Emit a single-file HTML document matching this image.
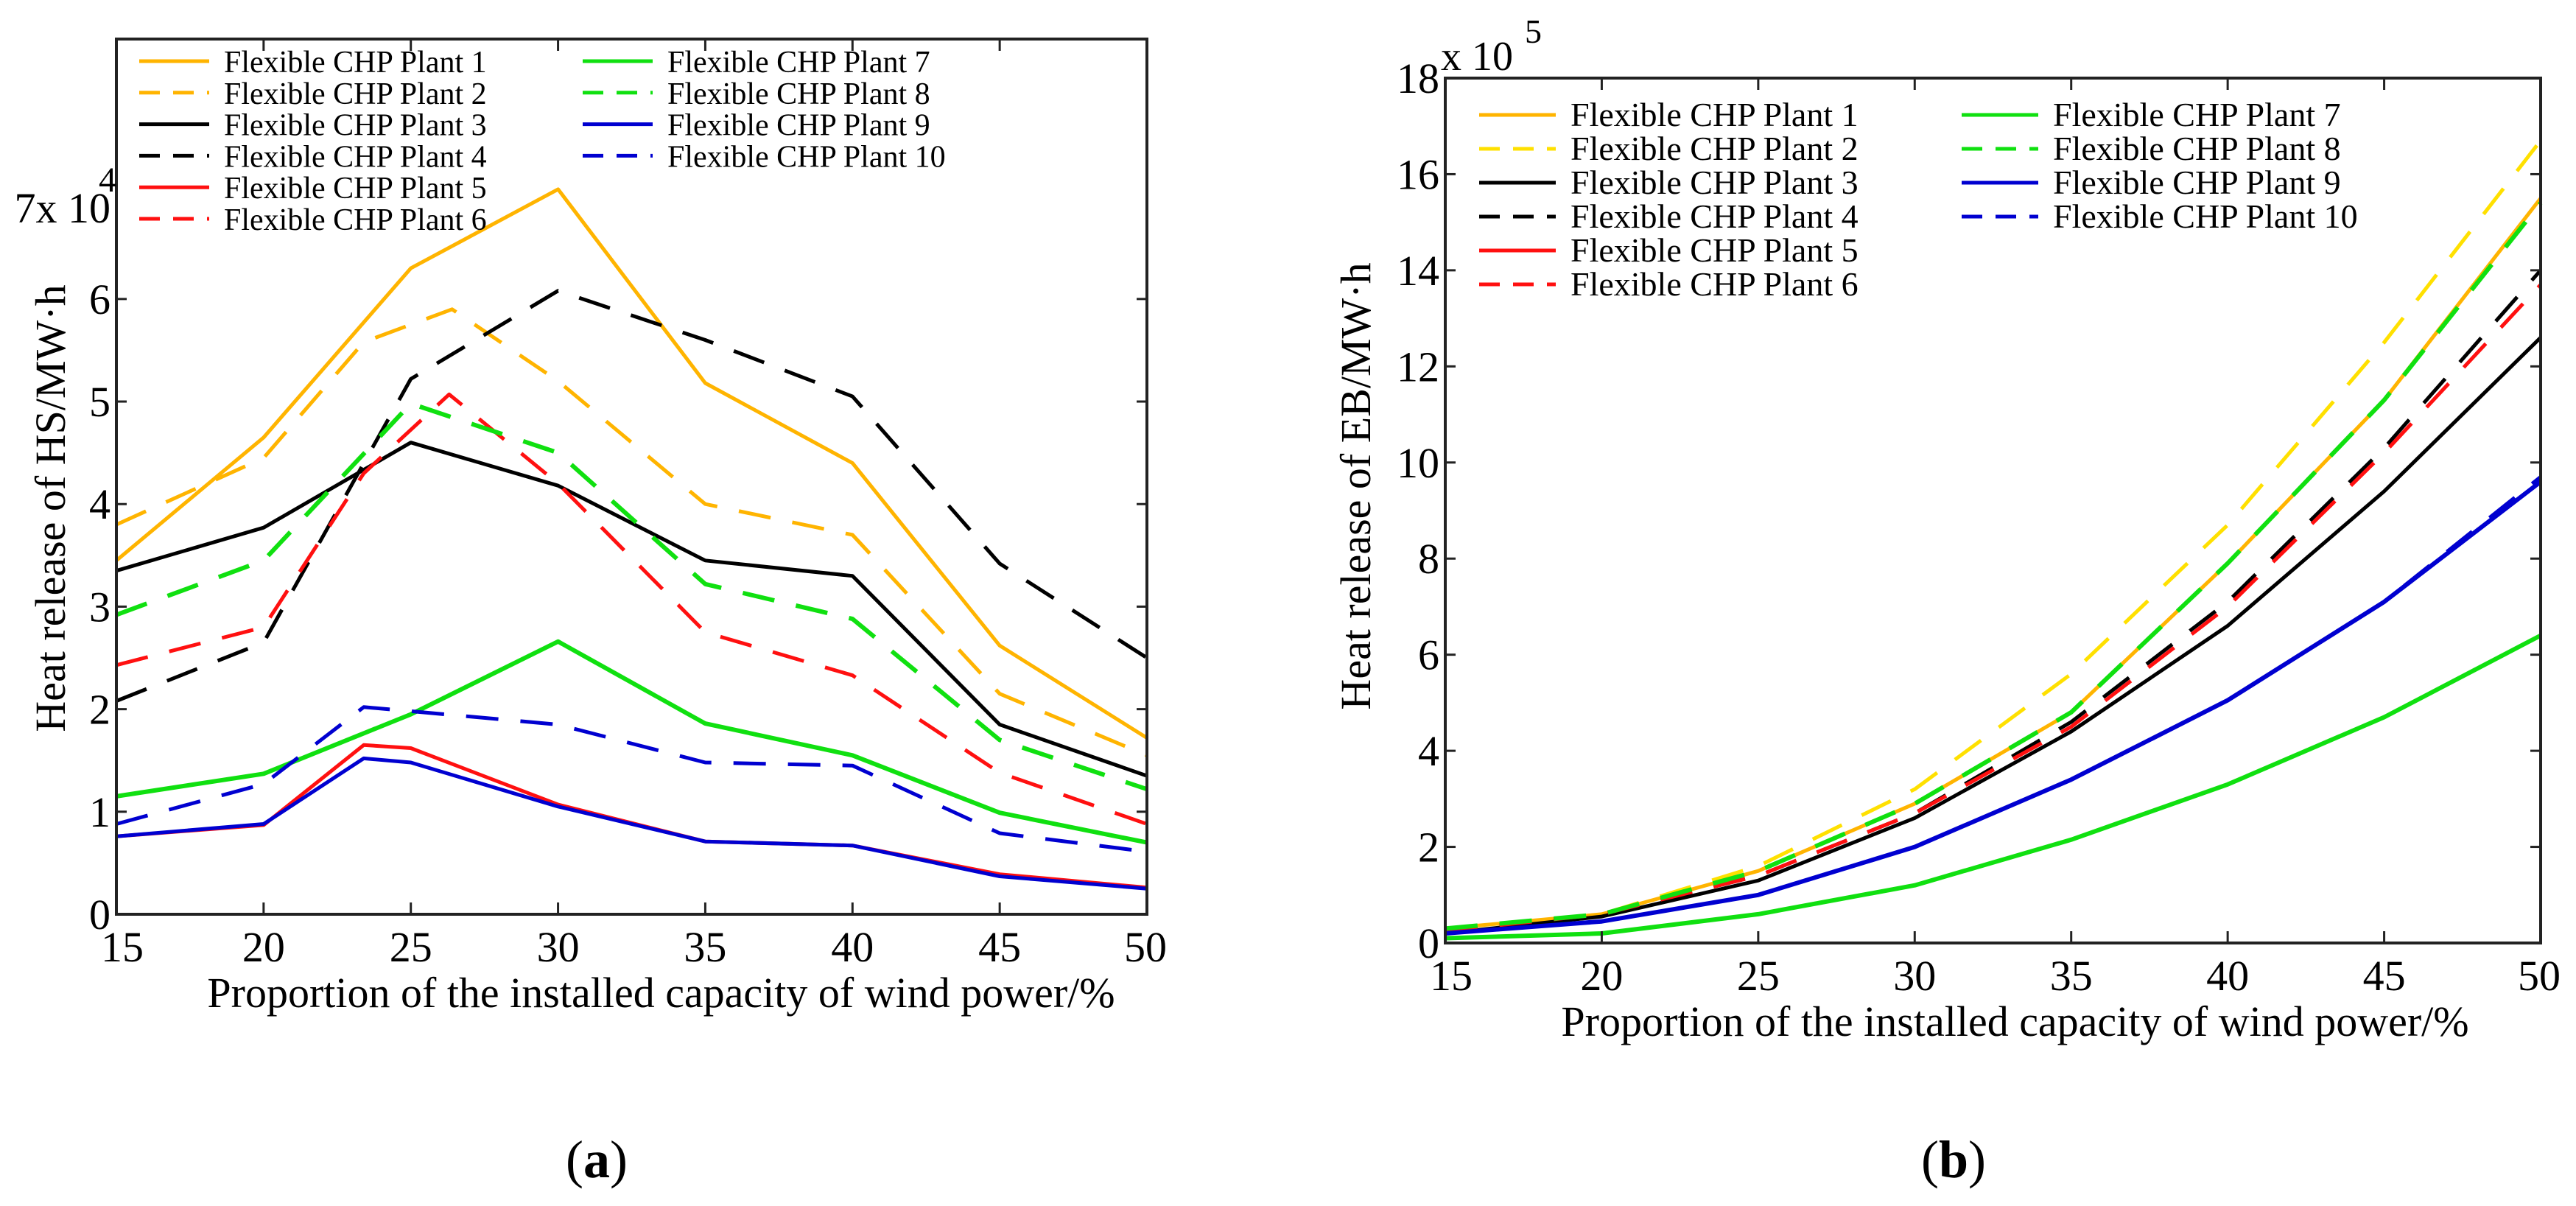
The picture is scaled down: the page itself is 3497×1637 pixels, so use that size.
<!DOCTYPE html>
<html><head><meta charset="utf-8"><style>
html,body{margin:0;padding:0;background:#fff;}
svg{display:block;font-family:"Liberation Serif",serif;}
</style></head><body>
<svg id="fig" width="3497" height="1637" viewBox="0 0 3497 1637" xmlns="http://www.w3.org/2000/svg">
<g id="chartA"></g>
<g id="chartB"></g>
</svg>
<script>
// ---- Chart (a) data: heat release of HS (x10^4 MW·h)
const aX = [15,20,25,30,35,40,45,50];
const aX2 = [15,20,23.4,26.4,30,35,40,45,50];
const aX3 = [15,20,23.4,25,30,35,40,45,50];
const aX6 = [15,20,23.4,26.3,30,35,40,45,50];
const aP1 = [3.45,4.65,6.3,7.07,5.18,4.4,2.62,1.72];
const aP2 = [3.8,4.45,5.58,5.9,5.2,4.0,3.7,2.15,1.55];
const aP3 = [3.35,3.77,4.6,4.18,3.45,3.3,1.85,1.35];
const aP4 = [2.08,2.65,5.22,6.08,5.6,5.05,3.42,2.5];
const aP5 = [0.76,0.87,1.65,1.62,1.07,0.71,0.67,0.39,0.26];
const aP6 = [2.43,2.8,4.3,5.07,4.2,2.75,2.33,1.38,0.88];
const aP7 = [1.15,1.37,1.95,2.66,1.86,1.55,0.99,0.7];
const aP8 = [2.92,3.45,4.98,4.5,3.22,2.88,1.7,1.22];
const aP9 = [0.76,0.88,1.52,1.48,1.05,0.71,0.67,0.37,0.25];
const aP10 = [0.88,1.27,2.02,1.98,1.85,1.48,1.45,0.79,0.61];
const aYTicks = [0,1,2,3,4,5,6];
const aXTicks = [15,20,25,30,35,40,45,50];
// ---- Chart (b) data: heat release of EB (x10^5 MW·h)
const bX = [15,20,25,30,35,40,45,50];
const bP1 = [0.3,0.6,1.5,2.9,4.8,7.9,11.3,15.5];
const bP2 = [0.3,0.6,1.6,3.2,5.6,8.7,12.5,16.7];
const bP3 = [0.2,0.55,1.3,2.6,4.4,6.6,9.4,12.6];
const bP4 = [0.25,0.6,1.4,2.7,4.6,7.1,10.3,14.0];
const bP5 = [0.2,0.45,1.0,2.0,3.4,5.05,7.1,9.6];
const bP6 = [0.25,0.6,1.4,2.7,4.5,7.0,10.2,13.7];
const bP7 = [0.1,0.2,0.6,1.2,2.15,3.3,4.7,6.4];
const bP8 = [0.3,0.6,1.5,2.9,4.8,7.9,11.3,15.4];
const bP9 = [0.2,0.45,1.0,2.0,3.4,5.05,7.1,9.6];
const bP10 = [0.2,0.45,1.0,2.0,3.4,5.05,7.1,9.7];
const bYTicks = [0,2,4,6,8,10,12,14,16,18];
const bXTicks = [15,20,25,30,35,40,45,50];
const names = ["Flexible CHP Plant 1","Flexible CHP Plant 2","Flexible CHP Plant 3","Flexible CHP Plant 4","Flexible CHP Plant 5","Flexible CHP Plant 6","Flexible CHP Plant 7","Flexible CHP Plant 8","Flexible CHP Plant 9","Flexible CHP Plant 10"];

const NS="http://www.w3.org/2000/svg";
function mk(parent,tag,attrs,text){const e=document.createElementNS(NS,tag);for(const k in attrs)e.setAttribute(k,attrs[k]);if(text!==undefined)e.textContent=text;parent.appendChild(e);return e;}

function drawChart(g,cfg){
  const sx=v=>cfg.L+(v-15)/35*(cfg.R-cfg.L);
  const sy=v=>cfg.B-(v-cfg.ymin)/(cfg.ymax-cfg.ymin)*(cfg.B-cfg.T);
  cfg.series.forEach((s,i)=>{
    const pts=s.y.map((v,j)=>sx(s.x[j]).toFixed(1)+","+sy(v).toFixed(1)).join(" ");
    const p=mk(g,"polyline",{points:pts,fill:"none",stroke:s.c,"stroke-width":s.w||5,"stroke-dasharray":s.d?"44,30":"none","stroke-linejoin":"round"});
    
    
  });
  const box=mk(g,"rect",{x:cfg.L,y:cfg.T,width:cfg.R-cfg.L,height:cfg.B-cfg.T,fill:"none",stroke:"#222","stroke-width":4});
  
  
  cfg.xt.forEach(v=>{
    const x=sx(v);
    mk(g,"line",{x1:x,y1:cfg.B,x2:x,y2:cfg.B-16,stroke:"#222","stroke-width":3});
    mk(g,"line",{x1:x,y1:cfg.T,x2:x,y2:cfg.T+16,stroke:"#222","stroke-width":3});
    const t=mk(g,"text",{x:x+(v===15?8:v===50?-2:0),y:cfg.B+64,"font-size":58,"text-anchor":"middle"},String(v));
    
    
  });
  cfg.yt.forEach(v=>{
    const y=sy(v);
    mk(g,"line",{x1:cfg.L,y1:y,x2:cfg.L+14,y2:y,stroke:"#222","stroke-width":3});
    mk(g,"line",{x1:cfg.R,y1:y,x2:cfg.R-14,y2:y,stroke:"#222","stroke-width":3});
    const t=mk(g,"text",{x:cfg.L-8,y:y+20,"font-size":58,"text-anchor":"end"},String(v));
    
    
  });
  const xt=mk(g,"text",{x:(cfg.L+cfg.R)/2+cfg.xtOff,y:cfg.B+126,"font-size":58,"text-anchor":"middle"},"Proportion of the installed capacity of wind power/%");
  
  
  const yt=mk(g,"text",{x:0,y:0,"font-size":58,"text-anchor":"middle",transform:"translate("+cfg.ytX+","+cfg.ytY+") rotate(-90)"},cfg.ytitle);
  
  
  cfg.series.forEach((s,i)=>{
    const col=i<6?0:1, row=i<6?i:i-6;
    const lx=cfg.leg.x[col], ly=cfg.leg.y0+row*cfg.leg.dy;
    const lg=mk(g,"g",{});
    
    
    mk(lg,"line",{x1:lx,y1:ly,x2:lx+cfg.leg.len,y2:ly,stroke:s.c,"stroke-width":5,"stroke-dasharray":s.d?"28,18":"none"});
    mk(lg,"text",{x:lx+cfg.leg.len+20,y:ly+15,"font-size":cfg.leg.fs},names[i]);
  });
}

const Y="#ffb400", Y2="#ffe000", K="#000", Rd="#ff1010", G="#10e010", Bl="#0000d0";
drawChart(document.getElementById("chartA"),{
  L:158,R:1557,T:53,B:1241,ymin:0,ymax:8.535,xt:aXTicks,yt:aYTicks,xtOff:40,
  ytX:88,ytY:690,ytitle:"Heat release of HS/MW·h",
  leg:{x:[189,791],y0:83,dy:42.8,len:95,fs:42},
  series:[{x:aX,y:aP1,c:Y},{x:aX2,y:aP2,c:Y,d:1},{x:aX,y:aP3,c:K},{x:aX,y:aP4,c:K,d:1},
          {x:aX3,y:aP5,c:Rd},{x:aX6,y:aP6,c:Rd,d:1},{x:aX,y:aP7,c:G,w:6},{x:aX,y:aP8,c:G,d:1,w:6},
          {x:aX3,y:aP9,c:Bl},{x:aX3,y:aP10,c:Bl,d:1}]
});
drawChart(document.getElementById("chartB"),{
  L:1962,R:3449,T:106,B:1280,ymin:0,ymax:18,xt:bXTicks,yt:bYTicks,xtOff:30,
  ytX:1860,ytY:660,ytitle:"Heat release of EB/MW·h",
  leg:{x:[2008,2663],y0:156,dy:46,len:104,fs:46},
  series:[{x:bX,y:bP1,c:Y},{x:bX,y:bP2,c:Y2,d:1},{x:bX,y:bP3,c:K},{x:bX,y:bP4,c:K,d:1},
          {x:bX,y:bP5,c:Rd},{x:bX,y:bP6,c:Rd,d:1},{x:bX,y:bP7,c:G,w:6},{x:bX,y:bP8,c:G,d:1,w:6},
          {x:bX,y:bP9,c:Bl,w:6},{x:bX,y:bP10,c:Bl,d:1}]
});
const gA=document.getElementById("chartA");
const e1=mk(gA,"text",{x:150,y:302,"font-size":58,"text-anchor":"end"},"7x 10");


const e2=mk(gA,"text",{x:134,y:260,"font-size":48},"4");


const gB=document.getElementById("chartB");
const e3=mk(gB,"text",{x:1956,y:95,"font-size":56},"x 10");


const e4=mk(gB,"text",{x:2070,y:58,"font-size":46},"5");


const ca=mk(document.getElementById("fig"),"text",{x:810,y:1598,"font-size":72,"text-anchor":"middle"});


mk(ca,"tspan",{},"(");mk(ca,"tspan",{"font-weight":"bold"},"a");mk(ca,"tspan",{},")");
const cb=mk(document.getElementById("fig"),"text",{x:2652,y:1598,"font-size":72,"text-anchor":"middle"});


mk(cb,"tspan",{},"(");mk(cb,"tspan",{"font-weight":"bold"},"b");mk(cb,"tspan",{},")");
</script>
</body></html>
